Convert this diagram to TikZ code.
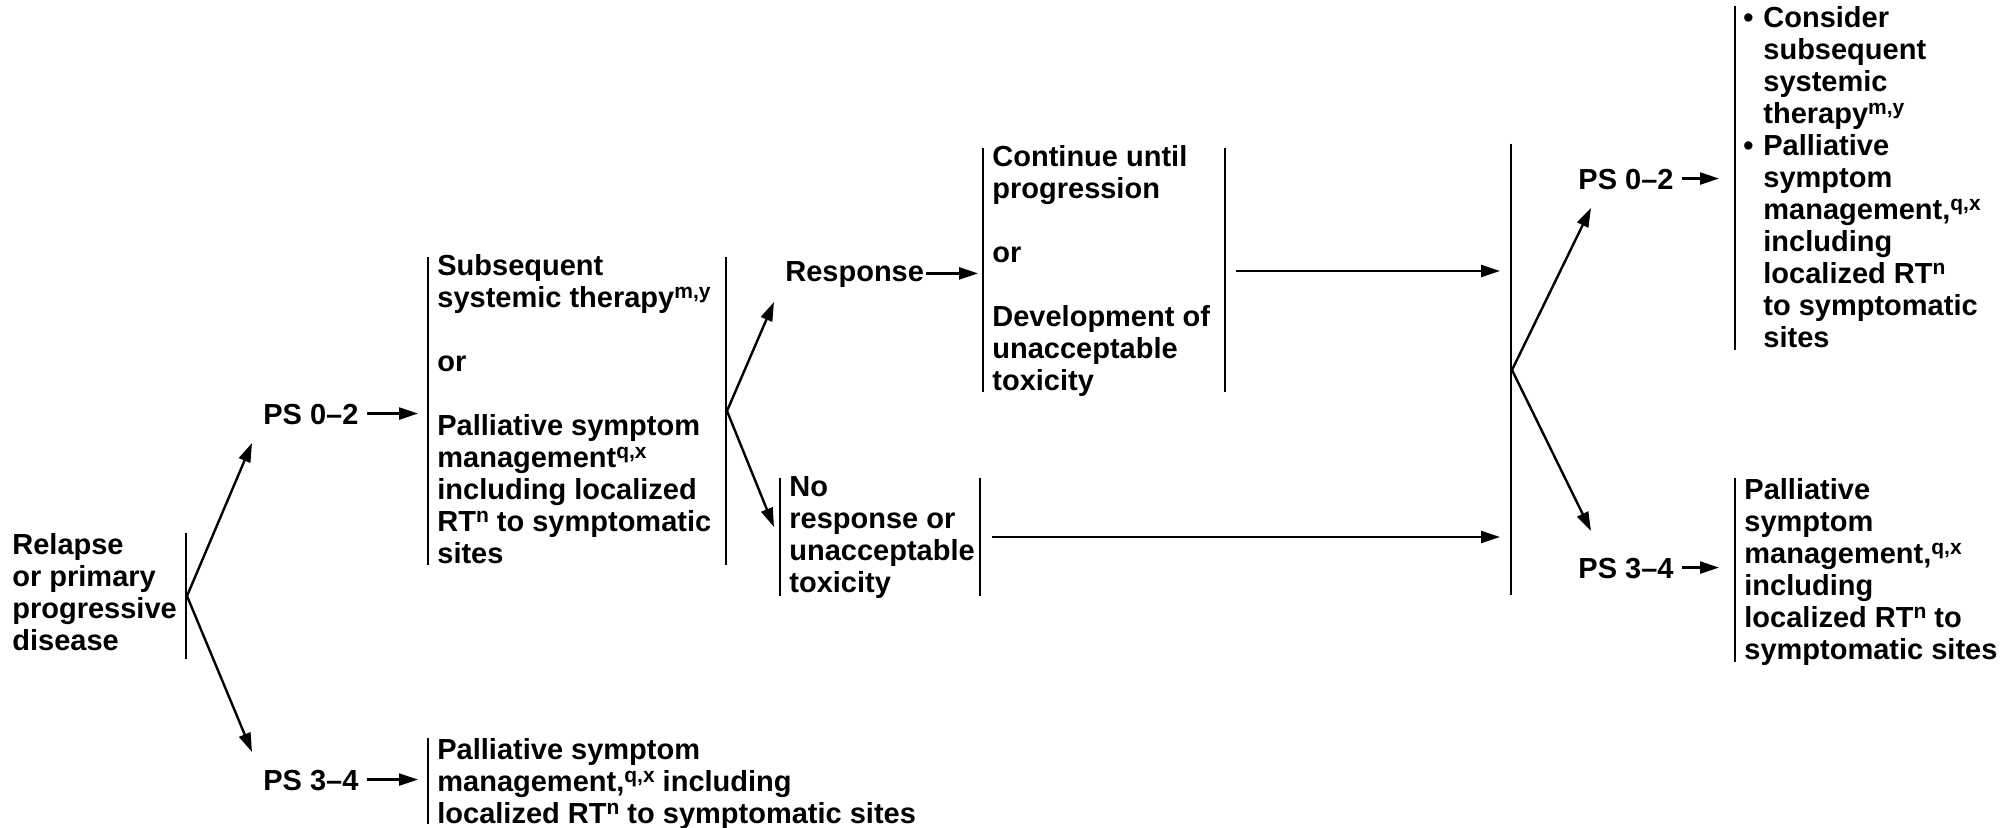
\documentclass[tikz,border=0pt]{standalone}
\usepackage{fontspec}
\setmainfont{Liberation Sans}
\usetikzlibrary{arrows.meta,calc}
\newcommand\supx[1]{\raisebox{4.6pt}{\fontsize{10.5}{10.5}\selectfont #1}}
\begin{document}
\begin{tikzpicture}[x=0.5pt,y=-0.5pt,
  txt/.style={anchor=north west,inner sep=0pt,align=left,
    font=\bfseries\fontsize{14.5}{16}\selectfont,
    execute at begin node=\rule{0pt}{11pt}},
  bar/.style={line width=1.3pt},
  arr/.style={line width=1.2pt,-{Triangle[length=9.5pt,width=6pt]}}]
\fill[white] (0,0) rectangle (2015,828);
\useasboundingbox (0,0) rectangle (2015,828);

% ---------- text nodes ----------
\node[txt] (rel) at (12,533) {Relapse\\or primary\\progressive\\disease};
\node[txt] (ps1) at (263,402) {PS 0–2};
\node[txt] (ps2) at (263,768) {PS 3–4};
\node[txt] (box2) at (437,254) {Subsequent\\systemic therapy\supx{m,y}\\[16pt]or\\[16pt]Palliative symptom\\management\supx{q,x}\\including localized\\RT\supx{n} to symptomatic\\sites};
\node[txt] (box5) at (437,738) {Palliative symptom\\management,\supx{q,x} including\\localized RT\supx{n} to symptomatic sites};
\node[txt] (resp) at (785,259) {Response};
\node[txt] (box3) at (992,145) {Continue until\\progression\\[16pt]or\\[16pt]Development of\\unacceptable\\toxicity};
\node[txt] (nores) at (789,476) {No\\response or\\unacceptable\\toxicity};
\node[txt] (ps3) at (1578,167) {PS 0–2};
\node[txt] (ps4) at (1578,556) {PS 3–4};
\node[txt] (box6) at (1763,6) {\llap{•\hspace{5pt}}Consider\\subsequent\\systemic\\therapy\supx{m,y}\\\llap{•\hspace{5pt}}Palliative\\symptom\\management,\supx{q,x}\\including\\localized RT\supx{n}\\to symptomatic\\sites};
\node[txt] (box7) at (1744,478) {Palliative\\symptom\\management,\supx{q,x}\\including\\localized RT\supx{n} to\\symptomatic sites};

% ---------- bars ----------
\coordinate (b1t) at (186,533); \coordinate (b1b) at (186,659);
\coordinate (b2t) at (428,257); \coordinate (b2b) at (428,565);
\coordinate (b2rt) at (726,257); \coordinate (b2rb) at (726,565);
\coordinate (b5t) at (428,738); \coordinate (b5b) at (428,824);
\coordinate (b3t) at (983,148); \coordinate (b3b) at (983,392);
\coordinate (b3rt) at (1225,148); \coordinate (b3rb) at (1225,392);
\coordinate (b4t) at (780,478); \coordinate (b4b) at (780,596);
\coordinate (b4rt) at (980,478); \coordinate (b4rb) at (980,596);
\coordinate (bbt) at (1511,144); \coordinate (bbb) at (1511,595);
\coordinate (b6t) at (1735,6); \coordinate (b6b) at (1735,350);
\coordinate (b7t) at (1735,478); \coordinate (b7b) at (1735,662);
\foreach \a/\b in {b1t/b1b,b2t/b2b,b2rt/b2rb,b5t/b5b,b3t/b3b,b3rt/b3rb,b4t/b4b,b4rt/b4rb,bbt/bbb,b6t/b6b,b7t/b7b}
  \draw[bar] (\a) -- (\b);

% ---------- apexes and arrow ends ----------
\coordinate (a1) at (187,596);
\coordinate (t1) at (252,443); \coordinate (t2) at (252,752);
\coordinate (a2) at (727,411);
\coordinate (t3) at (774,302); \coordinate (t4) at (774,527);
\coordinate (a3) at (1512,370);
\coordinate (t5) at (1591,208); \coordinate (t6) at (1591,531);
\coordinate (r3) at (1225,271); \coordinate (r4) at (980,537);

\draw[arr] (a1) -- (t1);
\draw[arr] (a1) -- (t2);
\draw[arr] (a2) -- (t3);
\draw[arr] (a2) -- (t4);
\draw[arr] (a3) -- (t5);
\draw[arr] (a3) -- (t6);

\draw[arr] ([xshift=4pt]ps1.east) -- ([xshift=-5pt]ps1.east -| b2t);
\draw[arr] ([xshift=4pt]ps2.east) -- ([xshift=-5pt]ps2.east -| b5t);
\draw[arr] ([xshift=1pt]resp.east) -- ([xshift=-2.5pt]resp.east -| b3t);
\draw[arr] ([xshift=5.5pt]r3) -- ([xshift=-5.5pt]r3 -| bbt);
\draw[arr] ([xshift=6pt]r4) -- ([xshift=-5.5pt]r4 -| bbt);
\draw[arr] ([xshift=4pt]ps3.east) -- ([xshift=-8pt]ps3.east -| b6t);
\draw[arr] ([xshift=4pt]ps4.east) -- ([xshift=-8pt]ps4.east -| b7t);
\end{tikzpicture}
\end{document}
